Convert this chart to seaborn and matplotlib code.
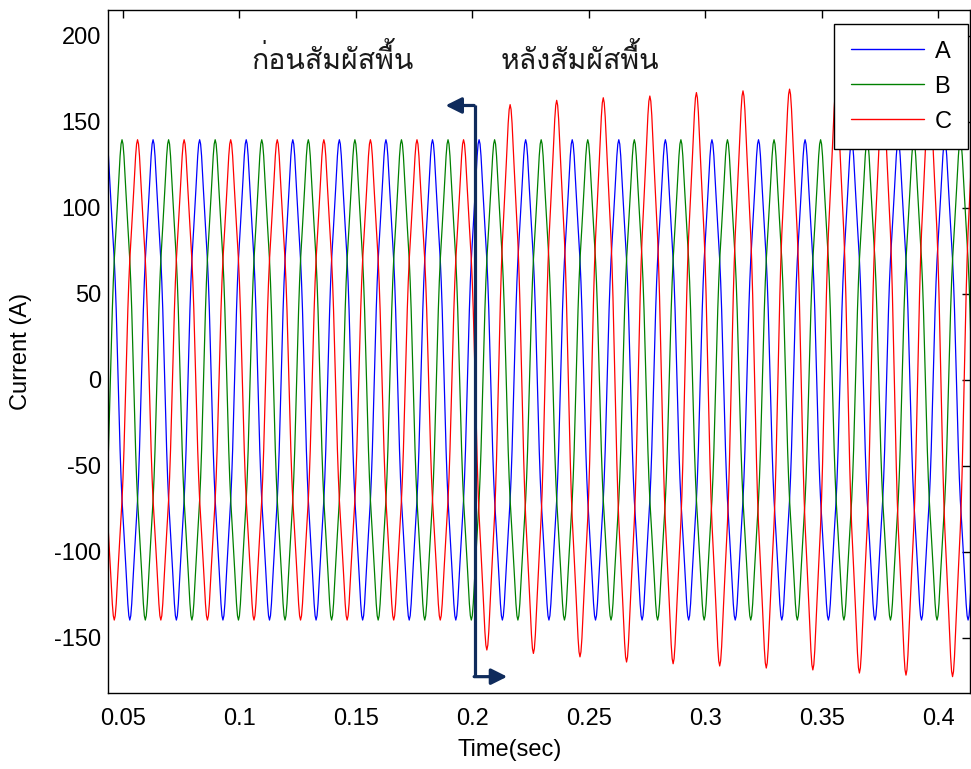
import numpy as np
import pandas as pd
import matplotlib
matplotlib.use("Agg")
import matplotlib.pyplot as plt
import seaborn as sns
from matplotlib import font_manager as fm
from matplotlib.ft2font import FT2Font

# ---------------- data ----------------
phases = ["A", "B", "C"]
phase_colors = {"A": "#0000ff", "B": "#008000", "C": "#ff0000"}
freq_hz = 50.0
samples_per_cycle = 48
# one quarter of a normalised cycle (0..90 deg, 7.5 deg steps) - narrow peaked wave
quarter_wave = [0.0, 0.1532, 0.2925, 0.4085, 0.5, 0.5736, 0.6397, 0.7084,
                0.7835, 0.8617, 0.9322, 0.9820, 1.0]
t_first_peak_A = 0.0029          # s, first positive peak of phase A (mod 20 ms)
phase_lag_deg = {"A": 0, "B": 120, "C": 240}
normal_peak = 139.6              # A, peak current of all phases before contact
t_contact = 0.2                  # s, ground contact
# phase C peaks after contact (one per half cycle)
c_pos_peaks_after = [160, 162.5, 164, 165, 167, 168, 169, 169.5, 170, 171, 172]
c_neg_peaks_after = [-157, -159, -161, -164, -165, -166.3, -167.5, -168.6,
                     -170.4, -171.6, -172.5, -173.5]
t_start, t_end = 0.040, 0.420

x_ticks = [0.05, 0.1, 0.15, 0.2, 0.25, 0.3, 0.35, 0.4]
x_tick_labels = ["0.05", "0.1", "0.15", "0.2", "0.25", "0.3", "0.35", "0.4"]
y_ticks = [-150, -100, -50, 0, 50, 100, 150, 200]
y_tick_labels = ["-150", "-100", "-50", "0", "50", "100", "150", "200"]
x_lim = (0.04356, 0.41374)
y_lim = (-182, 215)

label_before = "ก่อนสัมผัสพื้น"
label_after = "หลังสัมผัสพื้น"

# ---------------- build the sampled waveforms ----------------
half = quarter_wave + quarter_wave[-2:0:-1]            # 24 samples
cycle = np.array(half + [-v for v in half])            # 48 samples
dt = 1.0 / freq_hz / samples_per_cycle
n = np.arange(int(np.floor(t_start / dt)), int(np.ceil(t_end / dt)) + 1)
t = n * dt
peak_offset = int(round(t_first_peak_A / dt))

rows = []
for ph in phases:
    lag = int(round(phase_lag_deg[ph] / 360.0 * samples_per_cycle))
    k = n - peak_offset + samples_per_cycle // 4 - lag
    shape = cycle[np.mod(k, samples_per_cycle)]
    amp = np.full(len(n), normal_peak, dtype=float)
    if ph == "C":
        hh = np.floor_divide(k, samples_per_cycle // 2)
        peak_n = hh * (samples_per_cycle // 2) + peak_offset + lag
        peak_t = peak_n * dt
        after = peak_t > t_contact
        pos = (hh % 2) == 0
        for parity, vals in ((True, c_pos_peaks_after), (False, c_neg_peaks_after)):
            sel = after & (pos == parity)
            if sel.any():
                h0 = hh[sel].min()
                idx = np.clip((hh[sel] - h0) // 2, 0, len(vals) - 1)
                amp[sel] = np.abs(np.array(vals, dtype=float))[idx]
    y = amp * shape
    rows.append(pd.DataFrame({"Time": t, "Current": y, "Phase": ph}))
df = pd.concat(rows, ignore_index=True)

# ---------------- fonts ----------------
sns.set_style("white")
thai_family = None
best = None
for f in fm.fontManager.ttflist:
    try:
        cmap = FT2Font(f.fname).get_charmap()
    except Exception:
        continue
    if 0x0E01 in cmap and 0x0E2A in cmap and 0x0E48 in cmap:
        w = f.weight if isinstance(f.weight, int) else (400 if f.weight in ("normal", "regular") else 700)
        score = abs(w - 400) + (0 if f.style == "normal" else 1000)
        if best is None or score < best:
            best = score
            thai_family = f.name
plt.rcParams["font.family"] = ["Liberation Sans", "DejaVu Sans"]
for key in ("text.color", "axes.labelcolor", "xtick.color", "ytick.color"):
    plt.rcParams[key] = "black"
thai_fonts = ([thai_family] if thai_family else []) + ["Liberation Sans", "DejaVu Sans"]

# ---------------- figure ----------------
fig = plt.figure(figsize=(9.71, 7.69), dpi=100)
ax = fig.add_axes([108 / 971, 1 - 693 / 769, 862 / 971, 683 / 769])

sns.lineplot(data=df, x="Time", y="Current", hue="Phase", palette=phase_colors,
             hue_order=phases, estimator=None, sort=False, linewidth=0.9, ax=ax)

ax.set_xlim(*x_lim)
ax.set_ylim(*y_lim)
ax.set_xticks(x_ticks)
ax.set_xticklabels(x_tick_labels)
ax.set_yticks(y_ticks)
ax.set_yticklabels(y_tick_labels)
ax.tick_params(direction="in", length=6, width=1, top=True, right=True,
               labelsize=17, colors="black")
ax.tick_params(axis="x", pad=11)
ax.tick_params(axis="y", pad=5)
for s in ax.spines.values():
    s.set_visible(True)
    s.set_color("black")
    s.set_linewidth(1.0)

ax.set_xlabel("Time(sec)", fontsize=17, color="black")
ax.set_ylabel("Current (A)", fontsize=17, color="black")
ax.xaxis.set_label_coords((510 - 108) / 862, -0.068)
ax.yaxis.set_label_coords(-0.088, 0.5)

# legend
handles, labels = ax.get_legend_handles_labels()
leg = ax.legend(handles, labels, loc="upper right", bbox_to_anchor=(0.9977, 0.9795),
                borderaxespad=0, fontsize=17, handlelength=3.1, handletextpad=0.45,
                labelspacing=0.55, borderpad=0.7, fancybox=False, framealpha=1,
                edgecolor="black")
leg.get_frame().set_linewidth(1.0)
for lh in leg.get_lines():
    lh.set_linewidth(1.0)

# annotations
navy = "#0f2b5c"
x_mark = 0.2012
ax.plot([x_mark, x_mark], [159.5, -172.5], color=navy, lw=2.3, solid_capstyle="butt")
ax.annotate("", xy=(0.1885, 159.5), xytext=(x_mark - 0.0004, 159.5),
            arrowprops=dict(arrowstyle="-|>", color=navy, lw=2.3, mutation_scale=24,
                            shrinkA=0, shrinkB=0))
ax.annotate("", xy=(0.2150, -172.5), xytext=(x_mark - 0.0004, -172.5),
            arrowprops=dict(arrowstyle="-|>", color=navy, lw=2.3, mutation_scale=24,
                            shrinkA=0, shrinkB=0))

ax.text(0.1398, 186, label_before, fontsize=20.5, ha="center", va="center",
        family=thai_fonts, color="#1a1a1a")
ax.text(0.2463, 186, label_after, fontsize=20.5, ha="center", va="center",
        family=thai_fonts, color="#1a1a1a")

fig.savefig("out.png", dpi=100, facecolor="white")
